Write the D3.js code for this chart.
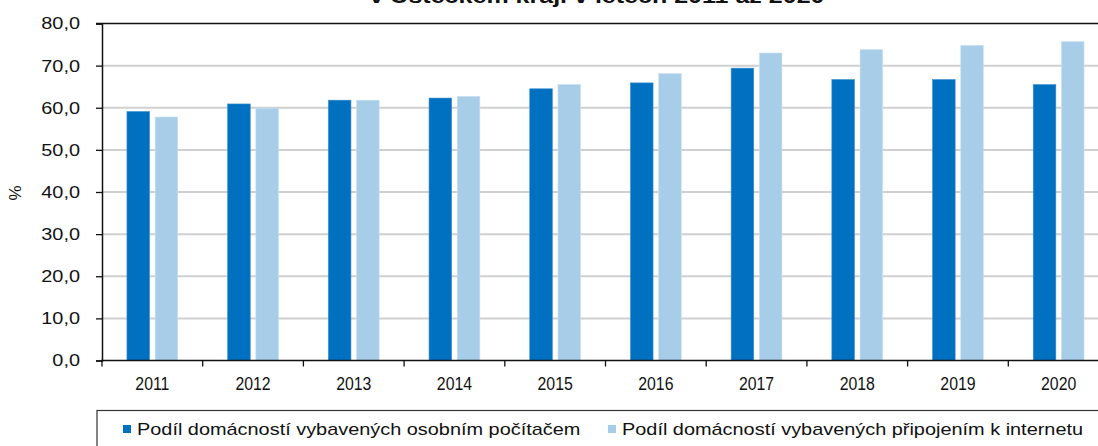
<!DOCTYPE html>
<html><head><meta charset="utf-8">
<script src="https://cdn.jsdelivr.net/npm/d3@7"></script>
<style>body{margin:0;background:#fff}svg{display:block}text{font-family:"Liberation Sans",Arial,sans-serif;fill:#111}</style>
</head><body>
<svg id="c" width="1098" height="446"></svg>
<script>
const title = "v Ústeckém kraji v letech 2011 až 2020";
const years = ["2011","2012","2013","2014","2015","2016","2017","2018","2019","2020"];
const pcShare = [59.1, 60.9, 61.8, 62.3, 64.5, 65.9, 69.4, 66.7, 66.7, 65.5];
const netShare = [57.8, 59.9, 61.8, 62.7, 65.5, 68.1, 73.0, 73.8, 74.8, 75.7];
const seriesNames = ["Podíl domácností vybavených osobním počítačem","Podíl domácností vybavených připojením k internetu"];
const colors = ["#0070c0","#a7cde9"];
const yTicks = [0,10,20,30,40,50,60,70,80];

const svg = d3.select("#c");
const L = 102, R = 1109, T = 23.5, B = 360.5;
const x = d3.scaleBand().domain(years).range([L, R]).padding(0);
const y = d3.scaleLinear().domain([0, 80]).range([B, T]);
const fmt = d => d.toFixed(1).replace(".", ",");
const HS = 1.17; // horizontal stretch of the reference text

// title (cut off at top, as in the reference)
svg.append("text").attr("x", 597).attr("y", 3).attr("text-anchor","middle")
  .style("font-weight","bold").style("font-size","20px").text(title)
  .attr("textLength", 455).attr("lengthAdjust","spacingAndGlyphs");

// gridlines
svg.append("g").selectAll("line").data(yTicks.filter(d => d > 0 && d < 80)).join("line")
  .attr("x1", L).attr("x2", 1098).attr("y1", d => y(d)).attr("y2", d => y(d))
  .attr("stroke", "#d0d0d0").attr("stroke-width", 2);
svg.append("line").attr("x1", L - 6).attr("x2", 1098).attr("y1", y(80)).attr("y2", y(80))
  .attr("stroke", "#111").attr("stroke-width", 1.5);

// bars
const bw = 22.6, gap = 5.6;
const series = [pcShare, netShare];
series.forEach((vals, si) => {
  svg.append("g").selectAll("rect").data(years).join("rect")
    .attr("x", (d) => x(d) + x.bandwidth()/2 + (si === 0 ? -(bw + gap/2) : gap/2))
    .attr("y", (d, i) => y(vals[i]))
    .attr("width", bw)
    .attr("height", (d, i) => B - y(vals[i]))
    .attr("fill", colors[si])
    .attr("stroke", si === 0 ? "#3d8fd0" : "#c9e1f3").attr("stroke-width", 0.6);
});

function stretch(sel, fs, hs) {
  sel.style("font-size", fs + "px").each(function() {
    const w = this.getComputedTextLength();
    d3.select(this).attr("textLength", w * hs).attr("lengthAdjust", "spacingAndGlyphs");
  });
}

// y axis
const ya = d3.axisLeft(y).tickValues(yTicks).tickFormat(fmt).tickSize(6).tickPadding(16);
const gy = svg.append("g").attr("transform", `translate(${L},0)`).call(ya)
  .attr("font-family", null).attr("font-size", 17);
gy.select(".domain").attr("stroke", "#111").attr("stroke-width", 1.5);
gy.selectAll(".tick line").attr("stroke", "#111").attr("stroke-width", 1.3);
gy.selectAll(".tick text").attr("fill","#111");
stretch(gy.selectAll(".tick text"), 17, HS);

// x axis
const xa = d3.axisBottom(x).tickSize(0).tickPadding(17);
const gx = svg.append("g").attr("transform", `translate(0,${B})`).call(xa)
  .attr("font-family", null).attr("font-size", 18);
gx.select(".domain").remove();
gx.selectAll(".tick text").attr("fill","#111");
stretch(gx.selectAll(".tick text"), 18, 0.88);
svg.append("line").attr("x1", L - 1).attr("x2", 1098).attr("y1", B).attr("y2", B)
  .attr("stroke", "#111").attr("stroke-width", 1.5);
svg.append("g").selectAll("line").data(years).join("line")
  .attr("x1", d => x(d)).attr("x2", d => x(d)).attr("y1", B).attr("y2", B + 6)
  .attr("stroke", "#111").attr("stroke-width", 1.3);

// y label
svg.append("text").attr("transform", "translate(21,193) rotate(-90)")
  .attr("text-anchor","middle").style("font-size","17px").text("%");

// legend
svg.append("rect").attr("x", 97).attr("y", 410.5).attr("width", 1010).attr("height", 60)
  .attr("fill","none").attr("stroke","#333").attr("stroke-width",1.2);
const legX = [123, 608];
seriesNames.forEach((n, i) => {
  svg.append("rect").attr("x", legX[i]).attr("y", 425).attr("width", 8).attr("height", 8).attr("fill", colors[i]);
  const t = svg.append("text").attr("x", legX[i] + 14).attr("y", 435).text(n);
  stretch(t, 17, HS);
});
</script>
</body></html>
